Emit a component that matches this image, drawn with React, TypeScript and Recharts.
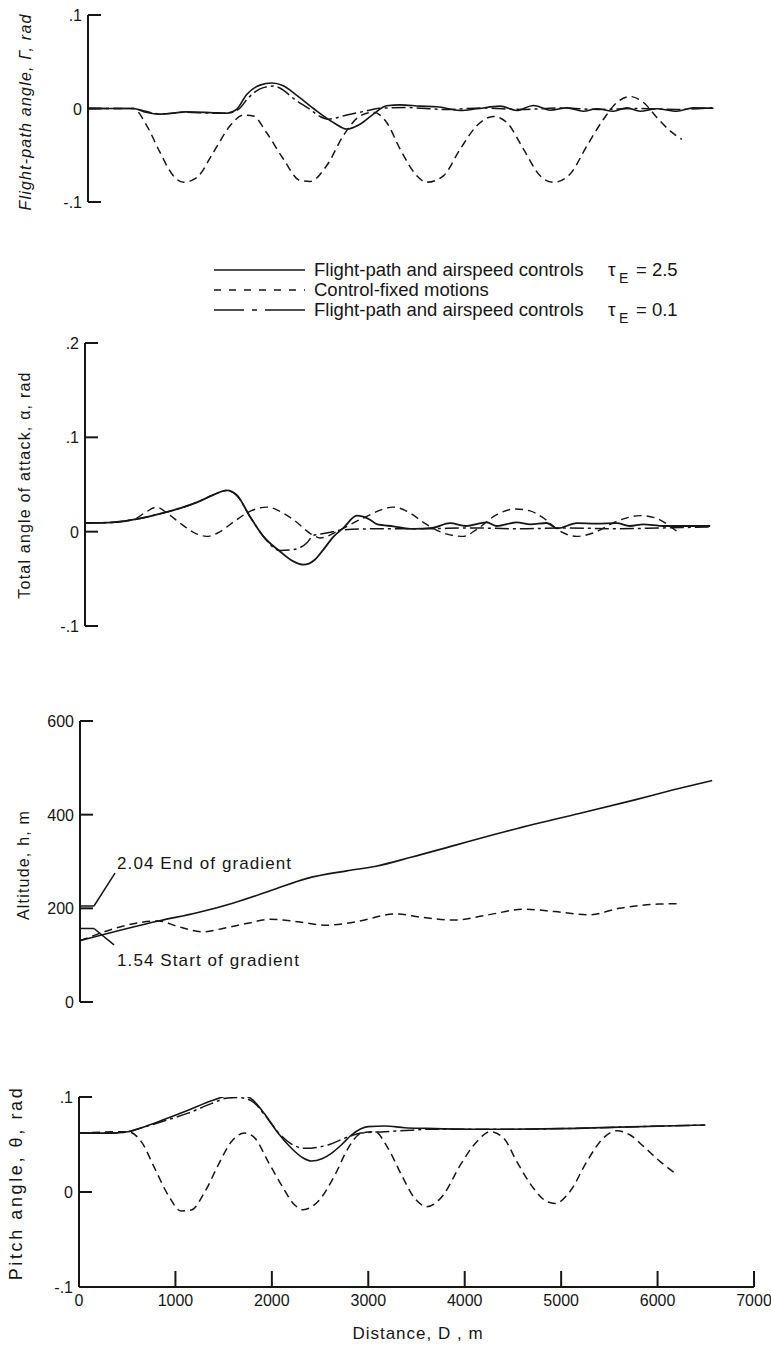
import React from "react";
import { LineChart, Line, XAxis, YAxis, ReferenceLine, ReferenceDot, Label } from "recharts";

const FONT = '"Liberation Sans", Arial, sans-serif';
const INK = "#161616";

type Pair = [number, number];

// distance D (m), value
const gammaSolid: Pair[] = [
  [0, 0], [470, 0], [600, -0.004], [750, -0.006], [1020, -0.0036], [1300, -0.0045], [1440, -0.005],
  [1540, -0.001], [1646, 0.015], [1784, 0.025], [1905, 0.0272], [2020, 0.0245], [2165, 0.014],
  [2338, 0.0], [2545, -0.015], [2684, -0.022], [2821, -0.0168], [2960, -0.006], [3098, 0.003],
  [3237, 0.0039], [3444, 0.0025], [3617, 0.0018], [3859, -0.0021], [4032, -0.0003], [4274, 0.0025],
  [4447, -0.0021], [4620, 0.0032], [4793, -0.0018], [4965, 0.0007], [5138, -0.0029], [5276, -0.0003],
  [5449, -0.0029], [5587, 0.0007], [5726, -0.0029], [5899, -0.0003], [6106, -0.0029], [6279, 0.0007],
  [6486, 0.0003],
];
const gammaFast: Pair[] = [
  [0, 0], [470, 0], [600, -0.003], [750, -0.006], [1020, -0.004], [1300, -0.005], [1440, -0.005],
  [1560, -0.001], [1660, 0.011], [1784, 0.021], [1923, 0.024], [2020, 0.02], [2127, 0.011], [2303, -0.001],
  [2407, -0.0086], [2490, -0.0114], [2684, -0.007], [2890, -0.0025], [3000, 0], [3300, 0.001],
  [3700, -0.001], [4100, 0.0005], [4500, -0.001], [4900, 0.0005], [5300, -0.001], [5700, 0],
  [6100, -0.001], [6486, 0.001],
];
const gammaFixed: Pair[] = [
  [0, 0], [470, 0], [610, -0.0185], [747, -0.047], [885, -0.072], [990, -0.079], [1127, -0.074],
  [1300, -0.047], [1473, -0.0185], [1611, -0.007], [1715, -0.008], [1853, -0.026], [2026, -0.054],
  [2199, -0.077], [2303, -0.078], [2476, -0.061], [2648, -0.029], [2821, -0.008], [2960, -0.004],
  [3098, -0.015], [3237, -0.0435], [3410, -0.072], [3513, -0.079], [3686, -0.072], [3859, -0.0435],
  [4032, -0.0185], [4204, -0.0085], [4343, -0.015], [4516, -0.0435], [4689, -0.072], [4827, -0.079],
  [5000, -0.07], [5173, -0.04], [5346, -0.0115], [5484, 0.0064], [5622, 0.0128], [5761, 0.0064],
  [5899, -0.0096], [6037, -0.024], [6158, -0.033],
];

const alphaSolid: Pair[] = [
  [0, 0.0092], [294, 0.0099], [501, 0.0127], [812, 0.0198], [1159, 0.031], [1331, 0.039],
  [1470, 0.0438], [1573, 0.039], [1711, 0.016], [1850, -0.005], [2023, -0.021], [2161, -0.0315],
  [2265, -0.035], [2380, -0.03], [2472, -0.019], [2580, -0.005], [2680, 0.004], [2818, 0.017],
  [2956, 0.0127], [3025, 0.008], [3198, 0.0057], [3405, 0.003], [3600, 0.004], [3786, 0.009],
  [3950, 0.006], [4167, 0.0099], [4270, 0.006], [4478, 0.0099], [4620, 0.0078], [4789, 0.0092],
  [4900, 0.0035], [5100, 0.009], [5300, 0.0085], [5515, 0.009], [5650, 0.006], [5789, 0.0078],
  [6000, 0.006], [6483, 0.006],
];
const alphaFast: Pair[] = [
  [0, 0.0092], [294, 0.0099], [501, 0.0127], [812, 0.0198], [1159, 0.031], [1331, 0.039],
  [1470, 0.0436], [1573, 0.0385], [1711, 0.016], [1850, -0.005], [2023, -0.02], [2161, -0.019],
  [2300, -0.012], [2369, -0.004], [2507, -0.0014], [2680, 0.002], [3000, 0.003], [3500, 0.003],
  [4000, 0.004], [4500, 0.003], [5000, 0.004], [5500, 0.003], [6000, 0.004], [6483, 0.005],
];
const alphaFixed: Pair[] = [
  [0, 0.0092], [294, 0.0099], [501, 0.0127], [620, 0.02], [743, 0.026], [850, 0.0198], [1000, 0.008],
  [1150, -0.002], [1262, -0.005], [1400, 0.0], [1550, 0.011], [1720, 0.022], [1885, 0.026],
  [2050, 0.02], [2161, 0.0127], [2369, -0.004], [2438, -0.0067], [2645, 0.002], [2887, 0.0145],
  [3198, 0.026], [3371, 0.0198], [3509, 0.0099], [3717, -0.0014], [3924, -0.005], [4063, 0.0025],
  [4270, 0.018], [4461, 0.024], [4616, 0.022], [4754, 0.0145], [4927, 0.0004], [5100, -0.005],
  [5270, -0.0014], [5515, 0.011], [5757, 0.017], [5930, 0.014], [6068, 0.0057], [6138, 0.0004],
];

const altSolid: Pair[] = [
  [0, 131], [813, 173], [1224, 191], [1584, 211], [1995, 239], [2355, 264], [2765, 280], [3072, 290],
  [3433, 309], [3895, 335], [4305, 358], [4717, 380], [5230, 405], [5744, 431], [6155, 453], [6556, 473],
];
const altFixed: Pair[] = [
  [0, 131], [813, 173], [1017, 161], [1276, 150], [1481, 157], [1738, 168], [1970, 176.6],
  [2251, 171.5], [2559, 164], [2867, 171.5], [3278, 188], [3535, 181], [3891, 175], [4204, 185],
  [4614, 198], [4927, 193], [5281, 186], [5589, 200], [6000, 209], [6231, 210],
];

const pitchSolid: Pair[] = [
  [0, 0.062], [335, 0.062], [508, 0.0635], [681, 0.0688], [889, 0.0765], [1131, 0.086], [1373, 0.096],
  [1546, 0.1015], [1650, 0.103], [1788, 0.098], [1926, 0.082], [2064, 0.062], [2203, 0.046],
  [2320, 0.036], [2410, 0.0326], [2520, 0.035], [2617, 0.0407], [2725, 0.05], [2825, 0.06],
  [2998, 0.0688], [3171, 0.0695], [3378, 0.0677], [3600, 0.067], [4264, 0.066], [5163, 0.067],
  [5508, 0.068], [6494, 0.0705],
];
const pitchFast: Pair[] = [
  [0, 0.062], [335, 0.062], [508, 0.0635], [681, 0.0685], [889, 0.075], [1131, 0.083], [1373, 0.093],
  [1546, 0.099], [1650, 0.0995], [1788, 0.096], [1926, 0.081], [2064, 0.063], [2203, 0.0505],
  [2341, 0.046], [2583, 0.0495], [2790, 0.058], [2928, 0.062], [3171, 0.0635], [3444, 0.065],
  [3600, 0.066], [4264, 0.066], [5163, 0.067], [5508, 0.068], [6494, 0.0705],
];
const pitchFixed: Pair[] = [
  [0, 0.062], [508, 0.0635], [646, 0.053], [785, 0.025], [923, -0.003], [1061, -0.02], [1165, -0.019],
  [1304, 0], [1442, 0.028], [1580, 0.053], [1719, 0.062], [1822, 0.057], [1961, 0.032], [2099, 0.0074],
  [2237, -0.0137], [2324, -0.0186], [2479, -0.01], [2652, 0.0175], [2790, 0.046], [2929, 0.062],
  [3067, 0.0635], [3205, 0.046], [3344, 0.018], [3482, -0.0067], [3606, -0.0154], [3779, -0.003],
  [3952, 0.028], [4125, 0.053], [4264, 0.0635], [4402, 0.057], [4540, 0.032], [4713, 0.004],
  [4851, -0.01], [4938, -0.012], [5093, 0.0007], [5266, 0.032], [5439, 0.057], [5578, 0.0645],
  [5716, 0.06], [5854, 0.048], [6027, 0.032], [6183, 0.0197],
];

const distanceTicks = [0, 1000, 2000, 3000, 4000, 5000, 6000, 7000];
const radTicksA = [-0.1, 0, 0.1];
const radTicksB = [-0.1, 0, 0.1, 0.2];
const altTicks = [0, 200, 400, 600];

const legendItems = [
  { text: "Flight-path and airspeed controls", tau: "2.5", dash: undefined },
  { text: "Control-fixed motions", tau: null, dash: "7 8" },
  { text: "Flight-path and airspeed controls", tau: "0.1", dash: "30 8 5 8 40" },
];

const pts = (arr: Pair[]) => arr.map(([d, v]) => ({ d, v }));

const DASHED = "8 5";
const DASHDOT = "14 4 3 4";

const fmtRad = (v: number) => (v === 0 ? "0" : v < 0 ? "-." + String(Math.round(-v * 10)) : "." + String(Math.round(v * 10)));

function YTick(props: any) {
  const { x, y, payload, fmt } = props;
  return (
    <g>
      <line x1={x} x2={x + 13} y1={y} y2={y} stroke={INK} strokeWidth={2} />
      <text x={x - 6} y={y} dy={6} textAnchor="end" fontSize={16} fill={INK} fontFamily={FONT}>
        {fmt(payload.value)}
      </text>
    </g>
  );
}

function XTick(props: any) {
  const { x, y, payload } = props;
  return (
    <g>
      {payload.value > 0 && <line x1={x} x2={x} y1={y} y2={y - 16} stroke={INK} strokeWidth={2} />}
      <text x={x} y={y + 19} textAnchor="middle" fontSize={16} fill={INK} fontFamily={FONT}>
        {payload.value}
      </text>
    </g>
  );
}

function axisTitle(text: string, tx: number, ty: number, opts: { italic?: boolean; size?: number; spacing?: number } = {}) {
  return (
    <Label
      value={text}
      content={() => (
        <text
          transform={`translate(${tx}, ${ty}) rotate(-90)`}
          textAnchor="middle"
          dominantBaseline="central"
          fontSize={opts.size ?? 16}
          letterSpacing={opts.spacing ?? 1.2}
          fontStyle={opts.italic ? "italic" : "normal"}
          fill={INK}
          fontFamily={FONT}
        >
          {text}
        </text>
      )}
    />
  );
}

function series(data: Pair[], dash?: string, w = 1.6) {
  return (
    <Line
      data={pts(data)}
      dataKey="v"
      type="monotone"
      stroke={INK}
      strokeWidth={w}
      strokeDasharray={dash}
      dot={false}
      activeDot={false}
      isAnimationActive={false}
    />
  );
}

const hiddenX = <XAxis hide type="number" dataKey="d" domain={[0, 7000]} allowDataOverflow />;

function Legend() {
  return (
    <svg width={771} height={84} style={{ position: "absolute", left: 0, top: 250 }}>
      {legendItems.map((it, i) => {
        const y = 20 + i * 20;
        return (
          <g key={i} fontFamily={FONT} fill={INK}>
            <line x1={214} x2={305} y1={y} y2={y} stroke={INK} strokeWidth={1.5} strokeDasharray={it.dash} />
            <text x={314} y={y} dy={6} fontSize={18.5}>{it.text}</text>
            {it.tau && (
              <>
                <text x={608} y={y} dy={6} fontSize={19}>τ</text>
                <text x={619} y={y} dy={13} fontSize={14}>E</text>
                <text x={636} y={y} dy={6} fontSize={18.5}>{"=  " + it.tau}</text>
              </>
            )}
          </g>
        );
      })}
    </svg>
  );
}

export default function App() {
  const W = 771;
  return (
    <div style={{ position: "absolute", left: 0, top: 0, width: W, height: 1347, background: "#fff", overflow: "hidden" }}>
      {/* Flight-path angle */}
      <div style={{ position: "absolute", left: 0, top: 0 }}>
        <LineChart width={W} height={230} margin={{ top: 15, right: 8, bottom: 28, left: 28 }}>
          {hiddenX}
          <YAxis
            type="number"
            domain={[-0.1, 0.1]}
            ticks={radTicksA}
            allowDataOverflow
            width={60}
            tickSize={0}
            tickMargin={0}
            axisLine={{ stroke: INK, strokeWidth: 2 }}
            tickLine={false}
            tick={(p: any) => <YTick {...p} fmt={fmtRad} />}
          >
            {axisTitle("Flight-path angle, Γ, rad", 25, 112, { italic: true })}
          </YAxis>
          {series(gammaFixed, DASHED, 1.5)}
          {series(gammaFast, DASHDOT, 1.5)}
          {series(gammaSolid)}
        </LineChart>
      </div>

      <Legend />

      {/* Angle of attack */}
      <div style={{ position: "absolute", left: 0, top: 320 }}>
        <LineChart width={W} height={330} margin={{ top: 23, right: 11, bottom: 24, left: 25 }}>
          {hiddenX}
          <YAxis
            type="number"
            domain={[-0.1, 0.2]}
            ticks={radTicksB}
            allowDataOverflow
            width={60}
            tickSize={0}
            tickMargin={0}
            axisLine={{ stroke: INK, strokeWidth: 2 }}
            tickLine={false}
            tick={(p: any) => <YTick {...p} fmt={fmtRad} />}
          >
            {axisTitle("Total angle of attack, α, rad", 24, 165)}
          </YAxis>
          {series(alphaFixed, DASHED, 1.4)}
          {series(alphaFast, DASHDOT, 1.5)}
          {series(alphaSolid, undefined, 1.8)}
        </LineChart>
      </div>

      {/* Altitude */}
      <div style={{ position: "absolute", left: 0, top: 700 }}>
        <LineChart width={W} height={320} margin={{ top: 21, right: 16, bottom: 18, left: 20 }}>
          {hiddenX}
          <YAxis
            type="number"
            domain={[0, 600]}
            ticks={altTicks}
            allowDataOverflow
            width={60}
            tickSize={0}
            tickMargin={0}
            axisLine={{ stroke: INK, strokeWidth: 2 }}
            tickLine={false}
            tick={(p: any) => <YTick {...p} fmt={(v: number) => String(v)} />}
          >
            {axisTitle("Altitude, h, m", 23, 165)}
          </YAxis>
          <ReferenceLine segment={[{ x: 0, y: 205 }, { x: 145, y: 205 }]} stroke={INK} strokeWidth={1.5} />
          <ReferenceLine segment={[{ x: 145, y: 205 }, { x: 363, y: 275 }]} stroke={INK} strokeWidth={1.5} />
          <ReferenceLine segment={[{ x: 0, y: 157 }, { x: 145, y: 157 }]} stroke={INK} strokeWidth={1.5} />
          <ReferenceLine segment={[{ x: 145, y: 157 }, { x: 353, y: 122 }]} stroke={INK} strokeWidth={1.5} />
          <ReferenceDot
            x={384}
            y={297}
            r={0.01}
            fill="none"
            stroke="none"
            label={{
              content: (p: any) => (
                <text x={p.viewBox.x} y={p.viewBox.y} dy={6} fontSize={17} letterSpacing={1.1} fill={INK} fontFamily={FONT}>
                  2.04 End of gradient
                </text>
              ),
            }}
          />
          <ReferenceDot
            x={384}
            y={90}
            r={0.01}
            fill="none"
            stroke="none"
            label={{
              content: (p: any) => (
                <text x={p.viewBox.x} y={p.viewBox.y} dy={6} fontSize={17} letterSpacing={1.1} fill={INK} fontFamily={FONT}>
                  1.54 Start of gradient
                </text>
              ),
            }}
          />
          {series(altFixed, DASHED, 1.5)}
          {series(altSolid)}
        </LineChart>
      </div>

      {/* Pitch angle */}
      <div style={{ position: "absolute", left: 0, top: 1060 }}>
        <LineChart width={W} height={287} margin={{ top: 37, right: 17, bottom: 10, left: 19 }}>
          <XAxis
            type="number"
            dataKey="d"
            domain={[0, 7000]}
            ticks={distanceTicks}
            allowDataOverflow
            height={50}
            tickSize={0}
            tickMargin={0}
            axisLine={{ stroke: INK, strokeWidth: 2 }}
            tickLine={false}
            tick={(p: any) => <XTick {...p} />}
          >
            <Label
              value="Distance, D , m"
              content={() => (
                <text x={418} y={273} textAnchor="middle" dominantBaseline="central" fontSize={17} letterSpacing={1} fill={INK} fontFamily={FONT}>
                  Distance, D , m
                </text>
              )}
            />
          </XAxis>
          <YAxis
            type="number"
            domain={[-0.1, 0.1]}
            ticks={radTicksA}
            allowDataOverflow
            width={60}
            tickSize={0}
            tickMargin={0}
            axisLine={{ stroke: INK, strokeWidth: 2 }}
            tickLine={false}
            tick={(p: any) => <YTick {...p} fmt={fmtRad} />}
          >
            {axisTitle("Pitch angle, θ, rad", 16, 123, { size: 18, spacing: 2.6 })}
          </YAxis>
          {series(pitchFixed, DASHED, 1.5)}
          {series(pitchFast, DASHDOT, 1.5)}
          {series(pitchSolid)}
        </LineChart>
      </div>
    </div>
  );
}
